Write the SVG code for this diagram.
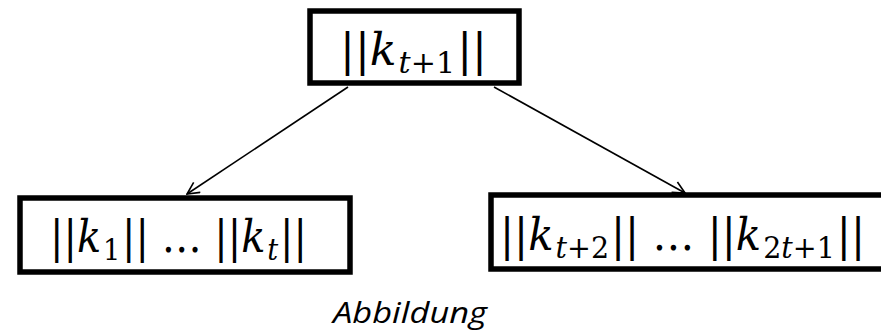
<svg xmlns="http://www.w3.org/2000/svg" width="881" height="333" viewBox="0 0 881 333">
  <style>
    .box { fill: #fff; stroke: #000; stroke-width: 5.5; }
    .edge { stroke: #000; stroke-width: 1.6; fill: none; marker-end: url(#open); }
    .math { font-family: "DejaVu Serif", "Liberation Serif", serif; font-size: 44px; fill: #000; }
    .var { font-style: italic; }
    .sub { font-size: 30px; }
    .cap { font-family: "Open Sans", "Liberation Sans", sans-serif; font-style: italic; font-size: 29px; fill: #000; }
  </style>
  <defs>
    <marker id="open" viewBox="0 0 14 14" refX="13" refY="7" markerWidth="14" markerHeight="14" markerUnits="userSpaceOnUse" orient="auto">
      <path d="M1,1 L13,7 L1,13" fill="none" stroke="#000" stroke-width="1.6"/>
    </marker>
  </defs>

  <g id="connectors">
    <line class="edge" x1="348" y1="87" x2="187" y2="194"/>
    <line class="edge" x1="494" y1="87" x2="685" y2="193"/>
  </g>

  <g id="root">
    <rect class="box" x="310" y="11" width="209" height="72"/>
    <text class="math" x="340" y="65" textLength="147" lengthAdjust="spacingAndGlyphs">||<tspan class="var">k</tspan><tspan class="sub var" dx="2" dy="8">t</tspan><tspan class="sub">+1</tspan><tspan dx="2" dy="-8">||</tspan></text>
  </g>

  <g id="left-child">
    <rect class="box" x="20" y="198" width="330" height="74"/>
    <text class="math" x="50" y="252" textLength="257" lengthAdjust="spacingAndGlyphs">||<tspan class="var">k</tspan><tspan class="sub" dx="2" dy="8">1</tspan><tspan dx="2" dy="-8">|| … ||</tspan><tspan class="var">k</tspan><tspan class="sub var" dx="2" dy="8">t</tspan><tspan dx="2" dy="-8">||</tspan></text>
  </g>

  <g id="right-child">
    <rect class="box" x="491" y="195" width="400" height="74"/>
    <text class="math" x="500" y="250" textLength="365" lengthAdjust="spacingAndGlyphs">||<tspan class="var">k</tspan><tspan class="sub var" dx="2" dy="8">t</tspan><tspan class="sub">+2</tspan><tspan dx="2" dy="-8">|| … ||</tspan><tspan class="var">k</tspan><tspan class="sub" dx="2" dy="8">2</tspan><tspan class="sub var">t</tspan><tspan class="sub">+1</tspan><tspan dx="2" dy="-8">||</tspan></text>
  </g>

  <text class="cap" x="410" y="323" text-anchor="middle" textLength="154" lengthAdjust="spacingAndGlyphs">Abbildung</text>
</svg>
